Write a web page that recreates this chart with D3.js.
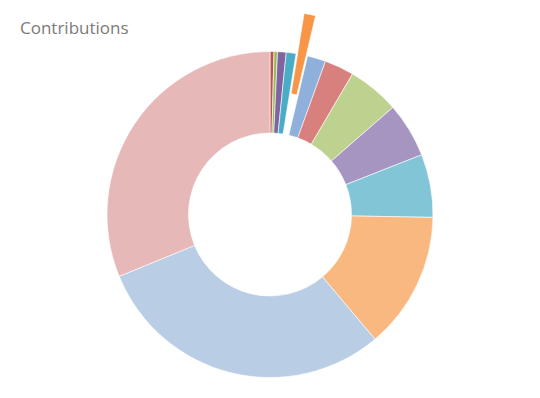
<!DOCTYPE html>
<html>
<head>
<meta charset="utf-8">
<script src="https://cdn.jsdelivr.net/npm/d3@7"></script>
<style>
  body { margin: 0; background: #fff; }
</style>
</head>
<body>
<div id="chart"></div>
<script>
// slice data, clockwise from 12 o'clock
const categories = ['A', 'B', 'C', 'D', 'E', 'F', 'G', 'H', 'I', 'J', 'K', 'L', 'M'];
const shares = [0.39, 0.35, 0.85, 0.97, 1.14, 1.83, 2.92, 5.14, 5.44, 6.25, 13.58, 29.94, 31.19];
const explodedCategory = 'E';

const colors = ['#c0504d', '#9bbb59', '#8064a2', '#4bacc6', '#f79646',
  '#8eb0da', '#d7807d', '#bed290', '#a795c1', '#82c5d7', '#f9b880',
  '#b9cde5', '#e6b9b8'];

const width = 540;
const height = 398;
const cx = 270;
const cy = 214.5;
const outerR = 163;
const innerR = 81.5;
const explode = 41;

const data = categories.map((c, i) => ({ name: c, value: shares[i] }));

const color = d3.scaleOrdinal()
  .domain(categories)
  .range(colors);

const svg = d3.select('#chart').append('svg')
  .attr('width', width)
  .attr('height', height);

svg.append('text')
  .attr('x', 20)
  .attr('y', 34)
  .attr('fill', '#7a7a7a')
  .style('font-family', '"Open Sans", sans-serif')
  .style('font-size', '17px')
  .text('Contributions');

const pie = d3.pie()
  .sort(null)
  .value(d => d.value);

const arc = d3.arc()
  .innerRadius(innerR)
  .outerRadius(outerR);

const g = svg.append('g')
  .attr('transform', `translate(${cx}, ${cy})`);

// exploded slice is pushed out along its bisector
g.selectAll('path')
  .data(pie(data)).enter()
  .append('path')
  .attr('d', arc)
  .attr('transform', d => {
    if (d.data.name !== explodedCategory) return null;
    const a = (d.startAngle + d.endAngle) / 2;
    return `translate(${Math.sin(a) * explode}, ${-Math.cos(a) * explode})`;
  })
  .style('fill', d => color(d.data.name))
  .style('stroke', '#fff')
  .style('stroke-width', 0.6);
</script>
</body>
</html>
